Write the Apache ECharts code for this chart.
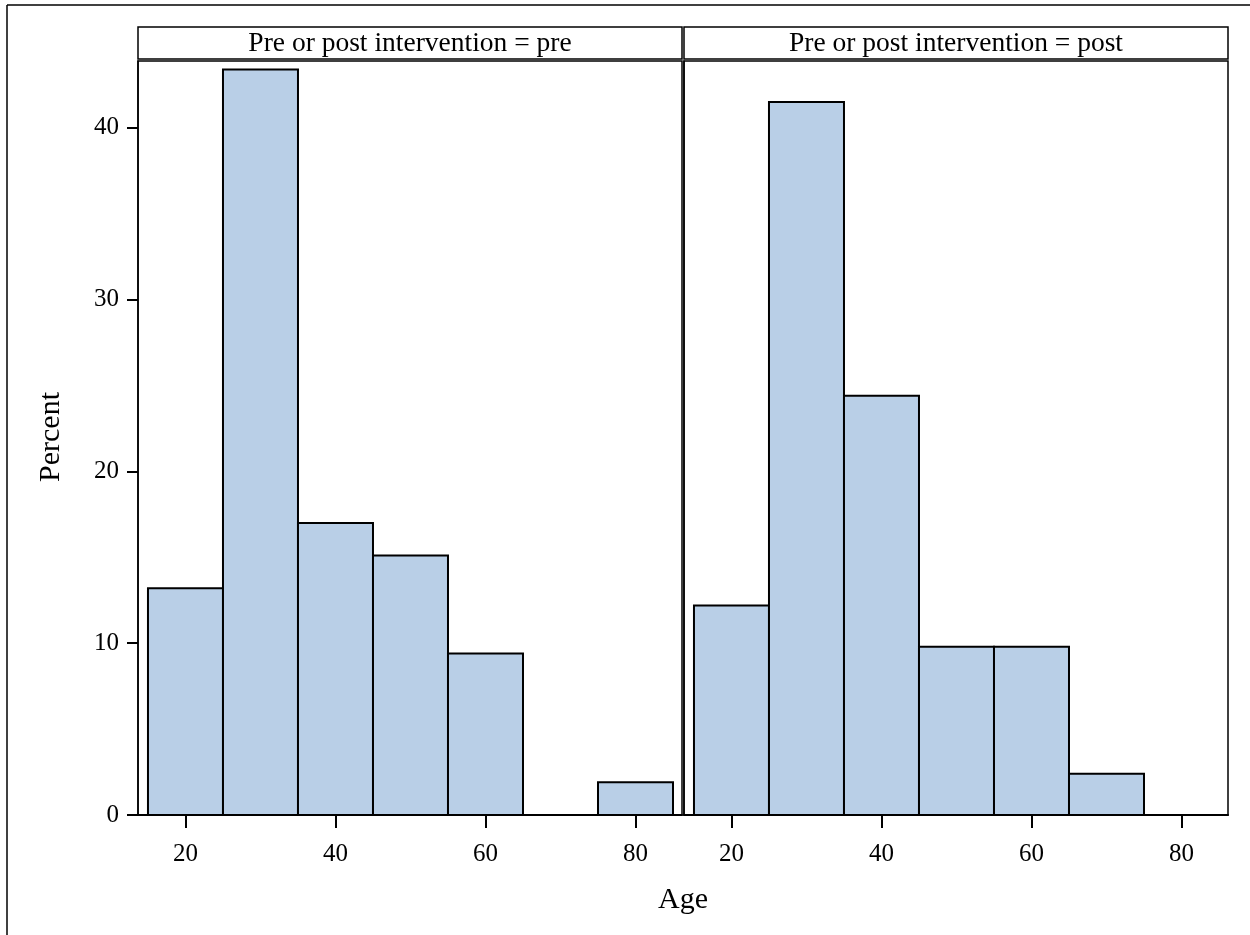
<!DOCTYPE html>
<html>
<head>
<meta charset="utf-8">
<script src="https://cdn.jsdelivr.net/npm/echarts@6/dist/echarts.min.js"></script>
<style>
html,body{margin:0;padding:0;background:#fff;}
#main{width:1250px;height:935px;}
</style>
</head>
<body>
<div id="main"></div>
<script>
// Histogram data: age bins (midpoints, width 10) and percent per panel
const binMids = [20, 30, 40, 50, 60, 70, 80];
const binWidth = 10;
const prePct = [13.2, 43.4, 17.0, 15.1, 9.4, 0, 1.9];
const postPct = [12.2, 41.5, 24.4, 9.8, 9.8, 2.4, 0];
const panelTitles = ['Pre or post intervention = pre', 'Pre or post intervention = post'];
const xTicks = [20, 40, 60, 80];
const yTicks = [0, 10, 20, 30, 40];
const xLabel = 'Age';
const yLabel = 'Percent';

const FONT = '"Liberation Serif","Times New Roman",serif';
const BAR_FILL = '#B9CFE7';

function toData(vals) {
  return binMids.map((m, i) => [m, vals[i]]);
}

function renderBar(params, api) {
  const mid = api.value(0), v = api.value(1);
  if (!v) return null;
  const p1 = api.coord([mid - binWidth / 2, v]);
  const p2 = api.coord([mid + binWidth / 2, 0]);
  return {
    type: 'rect',
    shape: { x: p1[0], y: p1[1], width: p2[0] - p1[0], height: p2[1] - p1[1] },
    style: { fill: BAR_FILL, stroke: '#000', lineWidth: 2 }
  };
}

const xMin = 13.67, xMax = 86.2, yMax = 43.89;

function xAxis(gi) {
  return {
    type: 'value', gridIndex: gi, min: xMin, max: xMax,
    axisLine: { show: true, onZero: false, lineStyle: { color: '#000', width: 2 } },
    axisTick: { show: true, length: 13, customValues: xTicks, lineStyle: { color: '#000', width: 2 } },
    axisLabel: { show: true, customValues: xTicks, margin: 27, fontFamily: FONT, fontSize: 25, color: '#000' },
    splitLine: { show: false }
  };
}
function yAxis(gi, show) {
  return {
    type: 'value', gridIndex: gi, min: 0, max: yMax,
    axisLine: { show: true, lineStyle: { color: '#000', width: 1.5 } },
    axisTick: { show: show, length: 11, customValues: yTicks, lineStyle: { color: '#000', width: 2 } },
    axisLabel: { show: show, customValues: yTicks, margin: 19, fontFamily: FONT, fontSize: 25, color: '#000' },
    splitLine: { show: false }
  };
}

const option = {
  animation: false,
  backgroundColor: '#fff',
  grid: [
    { left: 138, top: 61, width: 544, height: 754, show: true, borderColor: '#000', borderWidth: 1.5, backgroundColor: '#fff' },
    { left: 684, top: 61, width: 544, height: 754, show: true, borderColor: '#000', borderWidth: 1.5, backgroundColor: '#fff' }
  ],
  xAxis: [xAxis(0), xAxis(1)],
  yAxis: [yAxis(0, true), yAxis(1, false)],
  series: [
    { type: 'custom', xAxisIndex: 0, yAxisIndex: 0, data: toData(prePct), renderItem: renderBar, clip: true },
    { type: 'custom', xAxisIndex: 1, yAxisIndex: 1, data: toData(postPct), renderItem: renderBar, clip: true }
  ],
  graphic: [
    // outer frame (top and left edges)
    { type: 'line', shape: { x1: 7, y1: 5, x2: 1250, y2: 5 }, style: { stroke: '#000', lineWidth: 1.5 } },
    { type: 'line', shape: { x1: 7, y1: 5, x2: 7, y2: 935 }, style: { stroke: '#000', lineWidth: 1.5 } },
    // header strips
    { type: 'rect', shape: { x: 138, y: 27, width: 544, height: 32 }, style: { fill: '#fff', stroke: '#000', lineWidth: 1.5 } },
    { type: 'rect', shape: { x: 684, y: 27, width: 544, height: 32 }, style: { fill: '#fff', stroke: '#000', lineWidth: 1.5 } },
    { type: 'text', x: 410, y: 44, style: { text: panelTitles[0], font: '27.5px ' + FONT, fill: '#000', align: 'center', verticalAlign: 'middle' } },
    { type: 'text', x: 956, y: 44, style: { text: panelTitles[1], font: '27.5px ' + FONT, fill: '#000', align: 'center', verticalAlign: 'middle' } },
    // axis titles
    { type: 'text', x: 683, y: 900, style: { text: xLabel, font: '30px ' + FONT, fill: '#000', align: 'center', verticalAlign: 'middle' } },
    { type: 'text', x: 51, y: 437, rotation: Math.PI / 2, style: { text: yLabel, font: '30px ' + FONT, fill: '#000', align: 'center', verticalAlign: 'middle' } }
  ]
};

const chart = echarts.init(document.getElementById('main'), null, { renderer: 'canvas' });
chart.setOption(option);
</script>
</body>
</html>
